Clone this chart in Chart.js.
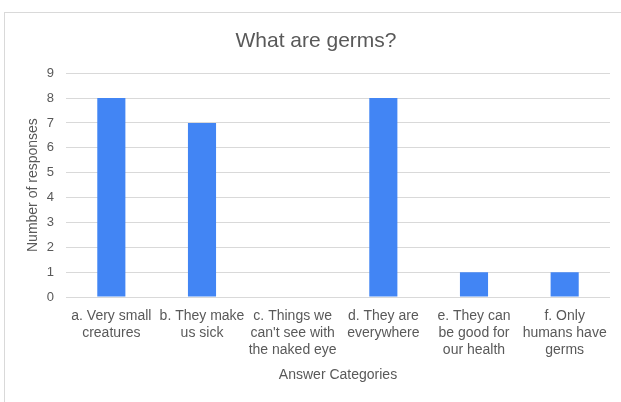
<!DOCTYPE html>
<html>
<head>
<meta charset="utf-8">
<script src="https://cdn.jsdelivr.net/npm/chart.js@4"></script>
<style>
    body { margin: 0; background: #ffffff; overflow: hidden; }
    #wrap { position: relative; width: 621px; height: 402px; }
    #frame {
        position: absolute; left: 4px; top: 12px;
        width: 700px; height: 500px;
        border: 1px solid #d9d9d9; box-sizing: border-box;
    }
    #chart { position: absolute; left: 0; top: 0; }
</style>
</head>
<body>
<div id="wrap">
    <div id="frame"></div>
    <canvas id="chart" width="621" height="402"></canvas>
</div>
<script>
/**
 * Categories
 */
const categories = [
    ['a. Very small', 'creatures'],
    ['b. They make', 'us sick'],
    ['c. Things we', "can't see with", 'the naked eye'],
    ['d. They are', 'everywhere'],
    ['e. They can', 'be good for', 'our health'],
    ['f. Only', 'humans have', 'germs']
];

/**
 * Responses
 */
const responses = [8, 7, 0, 8, 1, 1];

/**
 * Y ticks
 */
const yMin = 0;
const yMax = 9;
const yStep = 1;

const font = 'Arial, "Liberation Sans", sans-serif';
const textColor = '#595959';

new Chart(document.getElementById('chart'), {
    type: 'bar',

    data: {
        labels: categories,
        datasets: [
            {
                label: 'Number of responses',
                backgroundColor: '#4285f4',
                data: responses,
                categoryPercentage: 1,
                barPercentage: 0.31
            }
        ]
    },

    options: {
        responsive: false,
        animation: false,
        layout: {
            padding: { left: 11, right: 0, top: 0, bottom: 0 }
        },
        plugins: {
            legend: { display: false },
            tooltip: { enabled: false },
            title: {
                display: true,
                text: 'What are germs?',
                color: textColor,
                font: { family: font, size: 21, weight: 'normal' },
                padding: { top: 29, bottom: 19 }
            }
        },
        scales: {
            x: {
                grid: { display: false, drawTicks: false },
                border: { display: false },
                ticks: {
                    color: textColor,
                    font: { family: font, size: 14, lineHeight: 1.2 },
                    maxRotation: 0,
                    minRotation: 0,
                    autoSkip: false,
                    padding: 11
                },
                title: {
                    display: true,
                    text: 'Answer Categories',
                    color: textColor,
                    font: { family: font, size: 14 },
                    padding: { top: 6, bottom: 18 }
                },
                afterFit: function (scale) {
                    scale.height = 105;
                }
            },
            y: {
                min: yMin,
                max: yMax,
                grid: { color: '#d9d9d9', drawTicks: false },
                border: { display: false },
                ticks: {
                    stepSize: yStep,
                    color: textColor,
                    font: { family: font, size: 13 },
                    padding: 12
                },
                title: {
                    display: true,
                    text: 'Number of responses',
                    color: textColor,
                    font: { family: font, size: 14 },
                    padding: { top: 14, bottom: 6 }
                },
                afterFit: function (scale) {
                    scale.width = 55;
                }
            },

            /**
             * Empty right margin
             */
            right: {
                position: 'right',
                grid: { display: false },
                border: { display: false },
                ticks: { display: false },
                afterFit: function (scale) {
                    scale.width = 11;
                }
            }
        }
    }
});
</script>
</body>
</html>
